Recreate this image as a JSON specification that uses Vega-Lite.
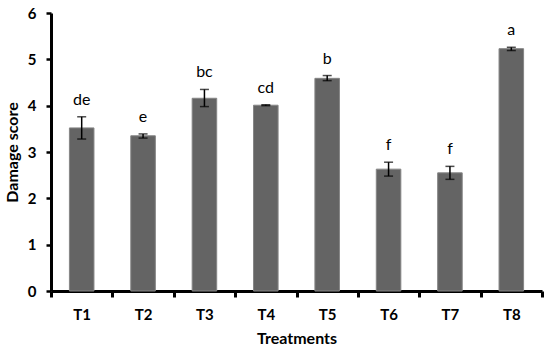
{
  "$schema": "https://vega.github.io/schema/vega-lite/v6.json",
  "width": 491,
  "height": 278,
  "autosize": {"type": "none"},
  "padding": {"left": 51, "top": 13, "right": 8, "bottom": 61},
  "background": "white",
  "config": {
    "view": {"stroke": null},
    "font": "Lato"
  },
  "data": {
    "values": [
      {"T": "T1", "mean": 3.52, "lo": 3.28, "hi": 3.76, "letter": "de"},
      {"T": "T2", "mean": 3.35, "lo": 3.30, "hi": 3.39, "letter": "e"},
      {"T": "T3", "mean": 4.16, "lo": 3.98, "hi": 4.35, "letter": "bc"},
      {"T": "T4", "mean": 4.01, "lo": 4.00, "hi": 4.02, "letter": "cd"},
      {"T": "T5", "mean": 4.59, "lo": 4.54, "hi": 4.65, "letter": "b"},
      {"T": "T6", "mean": 2.63, "lo": 2.48, "hi": 2.78, "letter": "f"},
      {"T": "T7", "mean": 2.55, "lo": 2.41, "hi": 2.69, "letter": "f"},
      {"T": "T8", "mean": 5.23, "lo": 5.19, "hi": 5.26, "letter": "a"}
    ]
  },
  "encoding": {
    "x": {
      "field": "T",
      "type": "nominal",
      "sort": null,
      "scale": {"paddingInner": 0, "paddingOuter": 0},
      "axis": {
        "title": "Treatments",
        "labelAngle": 0,
        "tickBand": "extent",
        "tickSize": 6,
        "tickWidth": 3,
        "tickColor": "black",
        "domainColor": "black",
        "domainWidth": 3,
        "labelFont": "Lato",
        "labelFontWeight": "bold",
        "labelFontSize": 15,
        "labelColor": "black",
        "labelPadding": 10,
        "titleFont": "Lato",
        "titleFontWeight": "bold",
        "titleFontSize": 16,
        "titleColor": "black",
        "titlePadding": 8
      }
    }
  },
  "layer": [
    {
      "mark": {"type": "bar", "width": {"band": 0.4}, "fill": "#646464", "stroke": "#858585", "strokeWidth": 1},
      "encoding": {
        "y": {
          "field": "mean",
          "type": "quantitative",
          "scale": {"domain": [0, 6], "nice": false},
          "axis": {
            "title": "Damage score",
            "values": [0, 1, 2, 3, 4, 5, 6],
            "grid": false,
            "tickSize": 5,
            "tickWidth": 2.5,
            "tickColor": "black",
            "domainColor": "black",
            "domainWidth": 3,
            "labelFont": "Lato",
            "labelFontWeight": "bold",
            "labelFontSize": 15,
            "labelColor": "black",
            "labelPadding": 10,
            "titleFont": "Lato",
            "titleFontWeight": "bold",
            "titleFontSize": 16,
            "titleColor": "black",
            "titlePadding": 7
          }
        }
      }
    },
    {
      "mark": {"type": "rule", "color": "black", "strokeWidth": 1.5},
      "encoding": {
        "y": {"field": "lo", "type": "quantitative"},
        "y2": {"field": "hi"}
      }
    },
    {
      "mark": {"type": "tick", "color": "black", "size": 9, "thickness": 1.5},
      "encoding": {"y": {"field": "lo", "type": "quantitative"}}
    },
    {
      "mark": {"type": "tick", "color": "black", "size": 9, "thickness": 1.5},
      "encoding": {"y": {"field": "hi", "type": "quantitative"}}
    },
    {
      "mark": {"type": "text", "baseline": "alphabetic", "dy": -12, "fontSize": 16, "font": "Lato", "color": "black"},
      "encoding": {
        "y": {"field": "hi", "type": "quantitative"},
        "text": {"field": "letter"}
      }
    }
  ]
}
